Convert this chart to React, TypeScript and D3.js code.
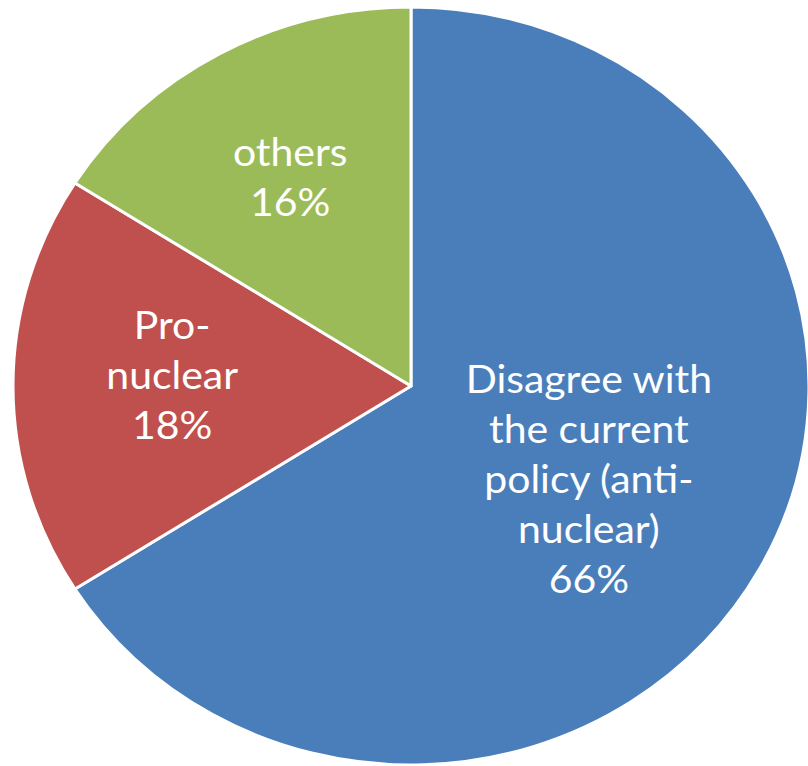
import React from "react";
import * as d3 from "d3";

const categories = ["Disagree with the current policy (anti-nuclear)", "Pro-nuclear", "others"];
const values = [66, 18, 16];
const labelLines = [
  ["Disagree with", "the current", "policy (anti-", "nuclear)", "66%"],
  ["Pro-", "nuclear", "18%"],
  ["others", "16%"],
];
const colors = ["#4A7EBB", "#C0504D", "#9BBB59"];

const W = 808;
const H = 766;
const cx = 411;
const cy = 386;
const ry = 379;
const rx = 398;
const labelFrac = [0.51, 0.6, 0.63];
const lineH = 50;
const fontSize = 39;

export default function App() {
  const pie = d3.pie<number>().sort(null).value((d) => d).startAngle(0).endAngle(2 * Math.PI);
  const arcs = pie(values);
  const arc = d3.arc<d3.PieArcDatum<number>>().innerRadius(0).outerRadius(ry);
  const sx = rx / ry;
  return (
    <svg width={W} height={H} style={{ position: "absolute", left: 0, top: 0 }}>
      <g transform={`translate(${cx},${cy}) scale(${sx},1)`}>
        {arcs.map((a, i) => (
          <path
            key={categories[i]}
            d={arc(a) || ""}
            fill={colors[i]}
            stroke="#fff"
            strokeWidth={3}
            strokeLinejoin="round"
            vectorEffect="non-scaling-stroke"
          />
        ))}
      </g>
      {arcs.map((a, i) => {
        const mid = (a.startAngle + a.endAngle) / 2;
        const r = labelFrac[i];
        const lx = cx + Math.sin(mid) * rx * r;
        let ly = cy - Math.cos(mid) * ry * r;
        if (i === 1) ly -= 11;
        const lines = labelLines[i];
        const n = lines.length;
        return (
          <g key={"l" + i} transform={`translate(${lx},${ly}) scale(${sx},1)`}>
            <text
              textAnchor="middle"
              fill="#fff"
              fontFamily="Lato, 'Open Sans', sans-serif"
              fontSize={fontSize}
            >
              {lines.map((t, j) => (
                <tspan key={j} x={0} y={(j - (n - 1) / 2) * lineH + 14}>
                  {t}
                </tspan>
              ))}
            </text>
          </g>
        );
      })}
    </svg>
  );
}
